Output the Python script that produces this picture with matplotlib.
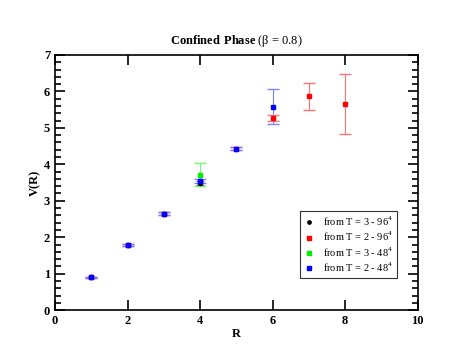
import matplotlib.pyplot as plt
from matplotlib.ticker import MultipleLocator

plt.rcParams['font.family'] = ['Liberation Serif', 'DejaVu Serif']
plt.rcParams['mathtext.fontset'] = 'custom'
plt.rcParams['mathtext.rm'] = 'Liberation Serif'
plt.rcParams['mathtext.bf'] = 'Liberation Serif:bold'

# data
r_black = [1, 2, 3, 4]
v_black = [0.90, 1.78, 2.65, 3.48]
e_black = [0.02, 0.03, 0.03, 0.05]

r_red = [1, 2, 3, 5, 6, 7, 8]
v_red = [0.90, 1.78, 2.65, 4.43, 5.27, 5.87, 5.65]
e_red = [0.02, 0.03, 0.03, 0.05, 0.09, 0.37, 0.82]

r_green = [4]
v_green = [3.72]
e_green = [0.31]

r_blue = [1, 2, 3, 4, 5, 6]
v_blue = [0.90, 1.78, 2.65, 3.55, 4.43, 5.58]
e_blue = [0.02, 0.03, 0.04, 0.05, 0.05, 0.48]

labels = ['from T = 3 - 96$^4$', 'from T = 2 - 96$^4$',
          'from T = 3 - 48$^4$', 'from T = 2 - 48$^4$']

fig = plt.figure(figsize=(4.71, 3.64), dpi=100)
ax = fig.add_axes([0.117, 0.148, 0.770, 0.701])

ax.errorbar(r_black, v_black, yerr=e_black, fmt='o', color='black', ms=3,
            ecolor=(0.4, 0.4, 0.4), elinewidth=0.8, capsize=3, label=labels[0])
ax.errorbar(r_red, v_red, yerr=e_red, fmt='s', color='red', ms=3,
            ecolor=(1, 0.45, 0.45), elinewidth=0.8, capsize=4, label=labels[1])
ax.errorbar(r_green, v_green, yerr=e_green, fmt='s', color='#00ee00', ms=3,
            ecolor=(0.45, 1, 0.45), elinewidth=0.8, capsize=4, label=labels[2])
ax.errorbar(r_blue, v_blue, yerr=e_blue, fmt='s', color='blue', ms=3,
            ecolor=(0.5, 0.5, 1), elinewidth=0.8, capsize=4, label=labels[3])

ax.set_xlim(0, 10)
ax.set_ylim(0, 7)
ax.xaxis.set_major_locator(MultipleLocator(2))
ax.yaxis.set_major_locator(MultipleLocator(1))
ax.yaxis.set_minor_locator(MultipleLocator(0.2))
ax.tick_params(which='both', direction='in', top=True, right=True, width=1.2)
ax.tick_params(which='major', length=7, labelsize=9)
ax.tick_params(which='minor', length=4)
for lab in ax.get_xticklabels() + ax.get_yticklabels():
    lab.set_fontweight('bold')
for s in ax.spines.values():
    s.set_linewidth(1.2)

ax.set_xlabel('R', fontweight='bold', fontsize=9, labelpad=1)
ax.set_ylabel('V(R)', fontweight='bold', fontsize=9, labelpad=2)
ax.set_title(r'$\mathbf{Confined\ Phase}$ (β = 0.8)', fontsize=9, pad=8)

handles, labs = ax.get_legend_handles_labels()
handles = [h[0] for h in handles]
leg = ax.legend(handles, labs, loc='lower right', bbox_to_anchor=(0.958, 0.105),
                fontsize=7.5, frameon=True, fancybox=False, edgecolor='black',
                handlelength=0.8, handletextpad=1.0, labelspacing=0.22,
                borderpad=0.4, markerscale=0.8)
leg.get_frame().set_linewidth(0.8)

fig.savefig('out.png', dpi=100)
